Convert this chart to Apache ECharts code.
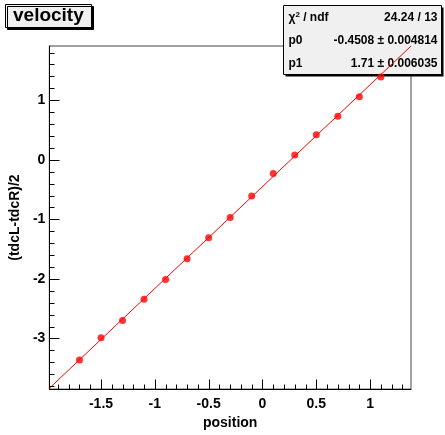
<!DOCTYPE html>
<html><head><meta charset="utf-8">
<script src="https://cdn.jsdelivr.net/npm/echarts@6/dist/echarts.min.js"></script>
<style>html,body{margin:0;padding:0;background:#fff}#c{width:445px;height:435px}</style>
</head><body><div id="c"></div>
<script>
const positions = [-1.7,-1.5,-1.3,-1.1,-0.9,-0.7,-0.5,-0.3,-0.1,0.1,0.3,0.5,0.7,0.9,1.1];
const values = [-3.36,-2.99,-2.70,-2.34,-2.01,-1.66,-1.31,-0.97,-0.61,-0.23,0.08,0.42,0.73,1.06,1.39];
const xMajor = [-1.5,-1,-0.5,0,0.5,1];
const xMinor = [-1.9,-1.8,-1.7,-1.6,-1.4,-1.3,-1.2,-1.1,-0.9,-0.8,-0.7,-0.6,-0.4,-0.3,-0.2,-0.1,0.1,0.2,0.3,0.4,0.6,0.7,0.8,0.9,1.1,1.2,1.3];
const yMajor = [-3,-2,-1,0,1];
const yMinor = [-3.8,-3.6,-3.4,-3.2,-2.8,-2.6,-2.4,-2.2,-1.8,-1.6,-1.4,-1.2,-0.8,-0.6,-0.4,-0.2,0.2,0.4,0.6,0.8,1.2,1.4,1.6,1.8];
const xRange = [-1.98, 1.38];
const yRange = [-3.85, 1.91];
const p0 = -0.4508, p1 = 1.71;
const statsRows = [["χ{s|2} / ndf", "24.24 / 13"], ["p0", "-0.4508 ± 0.004814"], ["p1", "1.71 ± 0.006035"]];
const fitLine = xRange.map(x => [x, p0 + p1 * x]);

const FONT = 'Liberation Sans';
const MAJOR_LEN = 10, MINOR_LEN = 5;

const chart = echarts.init(document.getElementById('c'));
const labelStyle = {fontFamily: FONT, fontWeight: 'bold', fontSize: 14, color: '#000'};
const statsBox = {type: 'group', id: 'stats', left: 283, top: 5, z: 100, children: [
  {type: 'rect', shape: {x: 2, y: 2, width: 158, height: 69}, style: {fill: '#000'}},
  {type: 'rect', shape: {x: 0, y: 0, width: 158, height: 69}, style: {fill: '#f0f0f0', stroke: '#000', lineWidth: 1}},
  ...statsRows.flatMap((r, i) => [
    {type: 'text', x: 5, y: 12 + i * 23, style: {text: r[0], fontFamily: FONT, fontWeight: 'bold', fontSize: 12, fill: '#000', verticalAlign: 'middle', align: 'left',
      rich: {s: {fontFamily: FONT, fontWeight: 'bold', fontSize: 8, verticalAlign: 'top', padding: [0, 0, 6, 0]}}}},
    {type: 'text', x: 154, y: 12 + i * 23, style: {text: r[1], fontFamily: FONT, fontWeight: 'bold', fontSize: 12, fill: '#000', verticalAlign: 'middle', align: 'right'}}
  ])
]};
const option = {
  animation: false,
  title: {
    text: 'velocity', left: 5, top: 4, padding: [2, 8, 3, 8],
    backgroundColor: '#f0f0f0', borderColor: '#000', borderWidth: 1,
    shadowColor: '#000', shadowOffsetX: 2, shadowOffsetY: 2, shadowBlur: 0,
    textStyle: {fontFamily: FONT, fontWeight: 'bold', fontSize: 19, color: '#000'}
  },
  grid: {left: 48, top: 46, right: 34, bottom: 42, show: true, borderColor: '#444', borderWidth: 1, backgroundColor: '#fff'},
  xAxis: {
    type: 'value', min: xRange[0], max: xRange[1], position: 'bottom',
    splitLine: {show: false},
    name: 'position', nameLocation: 'middle', nameGap: 21, nameTextStyle: labelStyle,
    axisLine: {onZero: false, lineStyle: {color: '#000', width: 1}},
    axisTick: {show: false},
    axisLabel: Object.assign({customValues: xMajor, margin: 8, formatter: v => String(v)}, labelStyle)
  },
  yAxis: {
    type: 'value', min: yRange[0], max: yRange[1], position: 'left',
    splitLine: {show: false},
    name: '(tdcL-tdcR)/2', nameLocation: 'middle', nameGap: 20, nameTextStyle: labelStyle,
    axisLine: {onZero: false, lineStyle: {color: '#000', width: 1}},
    axisTick: {show: false},
    axisLabel: Object.assign({customValues: yMajor, margin: 4, formatter: v => String(v)}, labelStyle)
  },
  series: [
    {type: 'line', data: fitLine, showSymbol: false, symbol: 'none', clip: true,
     lineStyle: {color: '#ff0000', width: 1}, silent: true, z: 2},
    {type: 'scatter', data: positions.map((x, i) => [x, values[i]]), symbol: 'circle', symbolSize: 7,
     itemStyle: {color: '#ff0000'}, z: 3}
  ],
  graphic: [statsBox]
};
chart.setOption(option);

// Axis ticks, placed through the chart's own scales
function tickLines() {
  const lines = [];
  const add = (vals, len, isX) => vals.forEach(v => {
    const p = isX ? chart.convertToPixel({gridIndex: 0}, [v, yRange[0]])
                  : chart.convertToPixel({gridIndex: 0}, [xRange[0], v]);
    const x = Math.round(p[0]) + 0.5, y = Math.round(p[1]) + 0.5;
    lines.push({type: 'line', z: 50, silent: true,
      shape: isX ? {x1: x, y1: y, x2: x, y2: y - len} : {x1: x, y1: y, x2: x + len, y2: y},
      style: {stroke: '#000', lineWidth: 1}});
  });
  add(xMajor, MAJOR_LEN, true); add(xMinor, MINOR_LEN, true);
  add(yMajor, MAJOR_LEN, false); add(yMinor, MINOR_LEN, false);
  return lines;
}
chart.setOption({graphic: [statsBox, {type: 'group', id: 'ticks', z: 50, children: tickLines()}]});
</script></body></html>
